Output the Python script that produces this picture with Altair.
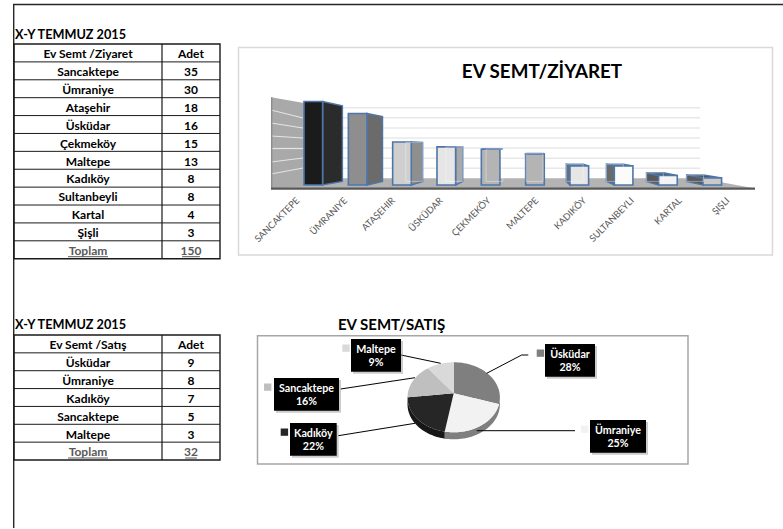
import numpy as np
import pandas as pd
import altair as alt

# Visits per home district
visit_districts = ["Sancaktepe", "Ümraniye", "Ataşehir", "Üsküdar", "Çekmeköy",
                   "Maltepe", "Kadıköy", "Sultanbeyli", "Kartal", "Şişli"]
visit_counts = [35, 30, 18, 16, 15, 13, 8, 8, 4, 3]
visit_axis_labels = ["SANCAKTEPE", "ÜMRANIYE", "ATAŞEHIR", "ÜSKÜDAR", "ÇEKMEKÖY",
                     "MALTEPE", "KADIKÖY", "SULTANBEYLI", "KARTAL", "ŞIŞLI"]
visit_total = 150

# Sales per home district
sale_districts = ["Üsküdar", "Ümraniye", "Kadıköy", "Sancaktepe", "Maltepe"]
sale_counts = [9, 8, 7, 5, 3]
sale_percents = ["28%", "25%", "22%", "16%", "9%"]
sale_total = 32

period_title = "X-Y TEMMUZ 2015"
FONT = "Lato"

# Greys of the column faces
front_fill = ["#1b1b1b", "#8e8e8e", "#cfcfcf", "#e6e6e6", "#b4b4b4",
              "#b4b4b4", "#e6e6e6", "#fbfbfb", "#f4f4f4", "#c9c9c9"]
side_fill = ["#2b2b2b", "#6b6b6b", "#8f8f8f", "#a9a9a9", "#a9a9a9",
             "#a9a9a9", "#6e6e6e", "#6a6a6a", "#5a5a5a", "#5a5a5a"]
top_fill = ["#2b2b2b", "#6b6b6b", "#a9a9a9", "#a9a9a9", "#a9a9a9",
            "#a9a9a9", "#777777", "#6a6a6a", "#555555", "#555555"]
EDGE = "#4f76a8"

pie_fill = ["#7f7f7f", "#f2f2f2", "#262626", "#bfbfbf", "#d9d9d9"]

layers = []


def qx(field, domain, rng):
    return alt.X(field, type="quantitative", axis=None, scale=alt.Scale(domain=domain, range=rng))


def qy(field, domain, rng):
    return alt.Y(field, type="quantitative", axis=None, scale=alt.Scale(domain=domain, range=rng))


PAGE_X = ([0, 783], [0, 783])
PAGE_Y = ([0, 529], [0, 529])


def box(x0, y0, x1, y1, **style):
    """Rectangle placed in page pixels."""
    layers.append(
        alt.Chart(pd.DataFrame({"k": [0]})).mark_rect(**style).encode(
            x=alt.value(x0), x2=alt.value(x1), y=alt.value(y0), y2=alt.value(y1))
    )


def segments(rows, color, width):
    """Straight segments (x, y, x2, y2) in page pixels."""
    df = pd.DataFrame(rows, columns=["x", "y", "x2", "y2"])
    layers.append(
        alt.Chart(df).mark_rule(color=color, strokeWidth=width).encode(
            x=qx("x", *PAGE_X), y=qy("y", *PAGE_Y), x2="x2:Q", y2="y2:Q")
    )


def label(text, x, y, size, color="#000000", weight="bold", align="center", angle=0):
    layers.append(
        alt.Chart(pd.DataFrame({"t": [text]})).mark_text(
            font=FONT, fontSize=size, fontWeight=weight, color=color, align=align,
            baseline="middle", angle=angle).encode(
            x=alt.value(x), y=alt.value(y), text="t:N")
    )


def envelope(points, pid, fill):
    """Turn a convex polygon into x / y / y2 rows that an area mark can draw."""
    pts = np.array(points, dtype=float)
    rows = []
    for x in np.unique(pts[:, 0]):
        hits = []
        for a, b in zip(pts, np.roll(pts, -1, axis=0)):
            lo, hi = sorted((a[0], b[0]))
            if lo <= x <= hi:
                if a[0] == b[0]:
                    hits += [a[1], b[1]]
                else:
                    hits.append(a[1] + (x - a[0]) / (b[0] - a[0]) * (b[1] - a[1]))
        rows.append({"x": x, "y": max(hits), "y2": min(hits), "id": pid, "fill": fill})
    return rows


def areas(rows, x_scale, y_scale, **style):
    layers.append(
        alt.Chart(pd.DataFrame(rows)).mark_area(interpolate="linear", **style).encode(
            x=qx("x", *x_scale), y=qy("y", *y_scale), y2="y2:Q",
            color=alt.Color("fill:N", scale=None), detail="id:N")
    )


def table(top, bottom, head, rows, counts, total):
    n = len(rows) + 2
    df = pd.DataFrame({"r": np.arange(1, n)})
    layers.append(
        alt.Chart(df).mark_rule(color="#1a1a1a", strokeWidth=1).encode(
            y=qy("r", [0, n], [top, bottom]), x=alt.value(14), x2=alt.value(220))
    )
    box(14, top, 220, bottom, fill="transparent", stroke="#1a1a1a", strokeWidth=1.4)
    box(162, top, 162, bottom, stroke="#1a1a1a", strokeWidth=1.2)

    left = [head] + rows + ["Toplam"]
    right = ["Adet"] + [str(c) for c in counts] + [str(total)]
    last = len(left) - 1
    row_h = (bottom - top) / n
    cells = pd.DataFrame({
        "left": left, "right": right,
        # the text sits slightly below the middle of each row
        "r": np.arange(len(left)) + 0.5 + 1.3 / row_h,
        "tone": ["#000000"] * last + ["#595959"],
    })
    for col, px in (("left", 88), ("right", 191)):
        layers.append(
            alt.Chart(cells).mark_text(font=FONT, fontWeight="bold", baseline="middle",
                                       fontSize=12).encode(
                x=alt.value(px),
                y=qy("r", [0, n], [top, bottom]),
                text=f"{col}:N",
                color=alt.Color("tone:N", scale=None))
        )
    under = bottom - 2
    digits = len(str(total)) * 5.9 / 2
    segments([(68, under, 108, under), (191 - digits, under, 191 + digits, under)], "#595959", 1)


# Page border
box(13, 4, 14.4, 528, fill="#262626")
box(13, 3.8, 783, 5.2, fill="#262626")

# Two tables
label(period_title, 15, 35, 12.7, align="left")
table(44, 258.7, "Ev Semt /Ziyaret", visit_districts, visit_counts, visit_total)
label(period_title, 15, 324.5, 12.7, align="left")
table(335, 460, "Ev Semt /Satış", sale_districts, sale_counts, sale_total)

# ---- Column chart ----
box(238.5, 47.5, 772.5, 255, fill="#ffffff", stroke="#d9d9d9", strokeWidth=1.5)
label("EV SEMT/ZİYARET", 542, 72, 18.8)

# Back wall gridlines
segments([(303, y, 700, y) for y in np.arange(107.7, 170, 10.1)], "#e8e8e8", 1.5)

# Floor and side wall
areas(envelope([(303, 178.3), (700, 178.3), (755, 188.5), (271, 188.5)], "floor", "#b3b3b3"),
      PAGE_X, PAGE_Y)
areas(envelope([(271, 97.3), (304, 103), (304, 186), (271, 189)], "wall", "#a9a9a9"),
      PAGE_X, PAGE_Y)
segments([(271, a, 303, b) for a, b in zip([110, 123, 136, 148.5, 162, 174],
                                           [118, 128, 138, 148.5, 158, 168])],
         "#e4e4e4", 1.2)
box(271, 97.3, 272.4, 189, fill="#8c8c8c")
box(271, 187.6, 755, 189.8, fill="#595959")

# Columns: projected towards a vanishing point, in slot / count units
SLOT_X = ([-2, 12], [304 - 2 * 44.33, 304 + 12 * 44.33])
VALUE_Y = ([0, 40], [185, 185 - 40 * 2.385])
VP_U, VP_V = 5.12, 15.9
DEPTH = 0.095
BAR_W = 0.42


def to_back(u, v):
    return u + DEPTH * (VP_U - u), v + DEPTH * (VP_V - v)


side_rows, top_rows, front_rows, inner_rows = [], [], [], []
for i, v in enumerate(visit_counts):
    u0, u1 = float(i), i + BAR_W
    edge = u1 if u1 < VP_U else u0
    if u1 < VP_U - 0.75 or u0 > VP_U:
        side_rows += envelope([(edge, 0), to_back(edge, 0), to_back(edge, v), (edge, v)],
                              f"side{i}", side_fill[i])
    if v < VP_V:
        top_rows += envelope([(u0, v), (u1, v), to_back(u1, v), to_back(u0, v)],
                             f"top{i}", top_fill[i])
    front_rows.append({"u0": u0, "u1": u1, "v": v, "base": 0, "fill": front_fill[i]})
    b0, bb = to_back(u0, 0)
    b1, bt = to_back(u1, v)
    if i >= 2:
        inner_rows.append({"u0": b0, "u1": b1, "v": bt, "base": bb})

areas(side_rows, SLOT_X, VALUE_Y, stroke=EDGE, strokeWidth=1.4)
areas(top_rows, SLOT_X, VALUE_Y, stroke=EDGE, strokeWidth=1.4)
layers.append(
    alt.Chart(pd.DataFrame(front_rows)).mark_rect(stroke=EDGE, strokeWidth=1.6).encode(
        x=qx("u0", *SLOT_X), x2="u1:Q",
        y=qy("v", *VALUE_Y), y2="base:Q",
        color=alt.Color("fill:N", scale=None))
)
layers.append(
    alt.Chart(pd.DataFrame(inner_rows)).mark_rect(
        fill="transparent", stroke="#ffffff", strokeOpacity=0.45, strokeWidth=0.8).encode(
        x=qx("u0", *SLOT_X), x2="u1:Q",
        y=qy("v", *VALUE_Y), y2="base:Q")
)

# Slanted category labels
layers.append(
    alt.Chart(pd.DataFrame({"i": np.arange(10), "t": visit_axis_labels})).mark_text(
        font=FONT, fontSize=9.3, color="#595959", align="right", baseline="middle", angle=315
    ).encode(
        x=qx("i", [0, 9], [298, 728]),
        y=alt.value(199),
        text="t:N")
)

# ---- Pie chart ----
label("EV SEMT/SATIŞ", 391.5, 325, 15)
box(257.5, 335.7, 688, 464, fill="#ffffff", stroke="#a6a6a6", strokeWidth=1.5)

PIE_X = ([-1, 1], [453.7 - 46.2, 453.7 + 46.2])
PIE_Y = ([-1, 1], [397.3 + 35, 397.3 - 35])
APEX = (0.0, 0.114)
RIM = 0.2

shares = np.array(sale_counts) / sum(sale_counts)
edges = np.concatenate([[0], np.cumsum(shares)]) * 2 * np.pi


def rim_point(a):
    return np.sin(a), np.cos(a)


# Outer wall of the disc, split where the front slices meet
split = edges[2]
wall_rows = []
for pid, fill, a0, a1 in (("r", "#7f7f7f", np.pi / 2, split), ("l", "#171717", split, 3 * np.pi / 2)):
    for a in np.linspace(a0, a1, 40):
        x, y = rim_point(a)
        wall_rows.append({"x": x, "y": y, "y2": y - RIM, "id": pid, "fill": fill})
areas(wall_rows, PIE_X, PIE_Y)

slice_rows = []
for i, fill in enumerate(pie_fill):
    pts = [APEX] + [rim_point(a) for a in np.linspace(edges[i], edges[i + 1], 40)]
    slice_rows += envelope(pts, f"slice{i}", fill)
areas(slice_rows, PIE_X, PIE_Y)

# Leader lines
segments([
    (486.7, 373.3, 521.7, 355), (521.7, 355, 528.3, 355),
    (476.7, 430.7, 575, 430.7),
    (338.3, 435.7, 415, 423.3),
    (340.7, 389, 415, 377.7),
    (401, 355, 440.7, 363.3),
], "#000000", 1)

# Callouts, in the order of the sales table: box, then legend swatch
callouts = [
    (545, 344, 595, 376.7, 536.7),
    (590, 420, 646, 452.7, 581),
    (290, 423, 336.7, 455.7, 280.7),
    (274, 378, 339, 410.7, 264),
    (351, 339, 401, 371.7, 342.3),
]
for (x0, y0, x1, y1, sx), name, pct, fill in zip(callouts, sale_districts, sale_percents, pie_fill):
    box(x0 + 2, y0 + 2, x1 + 2, y1 + 2, fill="#8c8c8c", opacity=0.45)
    box(x0, y0, x1, y1, fill="#000000")
    box(sx, y0 + 5.5, sx + 7.4, y0 + 12.8, fill=fill)
    label(name, (x0 + x1) / 2, y0 + 10.5, 10.7, color="#ffffff")
    label(pct, (x0 + x1) / 2, y0 + 24.3, 10.7, color="#ffffff")

chart = alt.layer(*layers).resolve_scale(x="independent", y="independent").properties(
    width=783, height=529, padding=0, autosize="none", background="#ffffff"
).configure_view(strokeWidth=0)

chart.save("out.html", embed_options={"renderer": "svg", "actions": False})
